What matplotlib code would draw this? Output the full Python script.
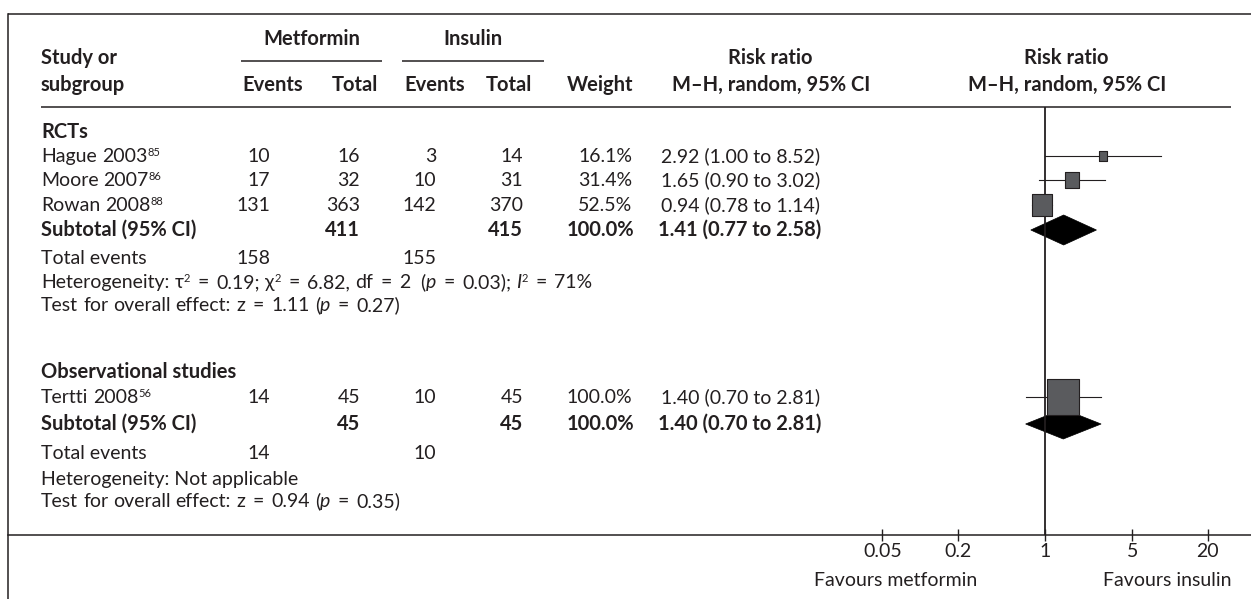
import matplotlib
matplotlib.use("Agg")
import matplotlib.pyplot as plt
from matplotlib.patches import Polygon
from matplotlib.ticker import NullLocator

plt.rcParams['font.family'] = ['Lato', 'DejaVu Sans']

INK = '#231f20'
BOX = '#5a5b5e'
FS = 14
FSB = 14.5
B = 'bold'

# ---------------- data ----------------
rct_names = ["Hague 2003", "Moore 2007", "Rowan 2008"]
rct_refs = ["85", "86", "88"]
rct_met_events = [10, 17, 131]
rct_met_total = [16, 32, 363]
rct_ins_events = [3, 10, 142]
rct_ins_total = [14, 31, 370]
rct_weight = [16.1, 31.4, 52.5]
rct_rr = [2.92, 1.65, 0.94]
rct_lo = [1.00, 0.90, 0.78]
rct_hi = [8.52, 3.02, 1.14]
rct_sub_total = [411, 415]
rct_sub_events = [158, 155]
rct_sub_rr = [1.41, 0.77, 2.58]
rct_het = ["0.19", "6.82", "2", "0.03", "71%"]
rct_test = ["1.11", "0.27"]

obs_names = ["Tertti 2008"]
obs_refs = ["56"]
obs_met_events = [14]
obs_met_total = [45]
obs_ins_events = [10]
obs_ins_total = [45]
obs_weight = [100.0]
obs_rr = [1.40]
obs_lo = [0.70]
obs_hi = [2.81]
obs_sub_total = [45, 45]
obs_sub_events = [14, 10]
obs_sub_rr = [1.40, 0.70, 2.81]
obs_test = ["0.94", "0.35"]

axis_ticks = [0.05, 0.2, 1, 5, 20]
axis_labels = ["0.05", "0.2", "1", "5", "20"]

# ---------------- canvas ----------------
W, H = 1251, 599
fig = plt.figure(figsize=(W / 100, H / 100), dpi=100)
fig.patch.set_facecolor('white')
page = fig.add_axes([0, 0, 1, 1])
page.set_xlim(0, W)
page.set_ylim(H, 0)
page.axis('off')
renderer = fig.canvas.get_renderer()


def _w(s, size, weight, style):
    t = page.text(0, 0, s, fontsize=size, fontweight=weight, fontstyle=style)
    w = t.get_window_extent(renderer=renderer).width
    t.remove()
    return w


def runs(x, y, parts, ha='left', size=FS, weight='normal', eq_pad=0.0):
    """Draw a sequence of text pieces side by side on one baseline.
    eq_pad adds room on both sides of every '=' sign."""
    arts = []
    cx = x
    for part in parts:
        if isinstance(part, str):
            s, kw = part, {}
        else:
            s, kw = part
        fs = kw.get('size', size)
        wt = kw.get('weight', weight)
        st = kw.get('style', 'normal')
        sp = _w('x x', fs, wt, 'normal') - _w('xx', fs, wt, 'normal')
        lead = len(s) - len(s.lstrip(' '))
        trail = len(s) - len(s.rstrip(' '))
        core = s.strip(' ')
        cx += lead * sp
        if core:
            words = core.split(' ')
            for k, wd in enumerate(words):
                if k:
                    cx += sp
                if not wd:
                    continue
                pad = eq_pad if wd == '=' else 0.0
                cx += pad
                t = page.text(cx, y - kw.get('dy', 0), wd, fontsize=fs,
                              fontweight=wt, fontstyle=st, color=INK,
                              ha='left', va='baseline')
                arts.append(t)
                cx += t.get_window_extent(renderer=renderer).width + pad
        cx += trail * sp
    total = cx - x
    if ha != 'left':
        shift = total if ha == 'right' else total / 2
        for t in arts:
            px, py = t.get_position()
            t.set_position((px - shift, py))
    return total


def txt(x, y, s, ha='left', weight='normal', size=None):
    if size is None:
        size = FSB if weight == B else FS
    page.text(x, y, s, fontsize=size, fontweight=weight, color=INK,
              ha=ha, va='baseline')


def hline(x0, x1, y, lw=1.1):
    page.plot([x0, x1], [y, y], color=INK, lw=lw, solid_capstyle='butt')


# ---------------- frame and rules ----------------
hline(8, W, 14)
page.plot([8, 8], [14, H], color=INK, lw=1.1)
hline(241, 382, 61)
hline(402, 544, 61)
hline(41, 1231, 107)

# ---------------- header ----------------
txt(41, 64, "Study or", weight=B)
txt(41, 91, "subgroup", weight=B)
txt(312, 45, "Metformin", ha='center', weight=B)
txt(473, 45, "Insulin", ha='center', weight=B)
for xc, lab in [(273, "Events"), (355, "Total"), (435, "Events"),
                (509, "Total"), (600, "Weight")]:
    txt(xc, 91, lab, ha='center', weight=B)
txt(770, 64, "Risk ratio", ha='center', weight=B)
txt(771, 91, "M\u2013H, random, 95% CI", ha='center', weight=B)
txt(1066, 64, "Risk ratio", ha='center', weight=B)
txt(1067, 91, "M\u2013H, random, 95% CI", ha='center', weight=B)

# column anchors
C_ME, C_MT, C_IE, C_IT, C_W, C_CI = 270, 360, 436, 523, 632, 661
SUP = dict(size=8, dy=6)
EQ = 2.5


def study_rows(ys, names, refs, me, mt, ie, it, wt, rr, lo, hi):
    for i, y in enumerate(ys):
        runs(41, y, [names[i], (refs[i], SUP)])
        txt(C_ME, y, f"{me[i]}", ha='right')
        txt(C_MT, y, f"{mt[i]}", ha='right')
        txt(C_IE, y, f"{ie[i]}", ha='right')
        txt(C_IT, y, f"{it[i]}", ha='right')
        txt(C_W, y, f"{wt[i]:.1f}%", ha='right')
        txt(C_CI, y, f"{rr[i]:.2f} ({lo[i]:.2f} to {hi[i]:.2f})")


def subtotal_row(y, tot, rr3, wsum):
    txt(41, y, "Subtotal (95% CI)", weight=B)
    txt(C_MT, y, f"{tot[0]}", ha='right', weight=B)
    txt(C_IT, y, f"{tot[1]}", ha='right', weight=B)
    txt(C_W + 2, y, f"{wsum:.1f}%", ha='right', weight=B)
    txt(C_CI - 3, y, f"{rr3[0]:.2f} ({rr3[1]:.2f} to {rr3[2]:.2f})", weight=B)


def events_row(y, ev):
    txt(41, y, "Total events")
    txt(C_ME, y, f"{ev[0]}", ha='right')
    txt(C_IE, y, f"{ev[1]}", ha='right')


def test_row(y, vals):
    runs(41, y, ["Test for overall effect: z = ", f"{vals[0]} (",
                 ("p", dict(style='italic')), f" = {vals[1]})"], eq_pad=EQ)


# ---------------- RCT block ----------------
rct_y = [162, 186, 211]
rct_sub_y = 236
txt(41, 138, "RCTs", weight=B)
study_rows(rct_y, rct_names, rct_refs, rct_met_events, rct_met_total,
           rct_ins_events, rct_ins_total, rct_weight, rct_rr, rct_lo, rct_hi)
subtotal_row(rct_sub_y, rct_sub_total, rct_sub_rr, sum(rct_weight))
events_row(264, rct_sub_events)
runs(41, 288, ["Heterogeneity: ", ("\u03c4", {}), ("2", SUP),
               f" = {rct_het[0]}; ", ("\u03c7", {}), ("2", SUP),
               f" = {rct_het[1]}, df = {rct_het[2]}  (",
               ("p", dict(style='italic')), f" = {rct_het[3]}); ",
               ("I", dict(style='italic')), ("2", SUP), f" = {rct_het[4]}"],
     eq_pad=EQ)
test_row(311, rct_test)

# ---------------- observational block ----------------
obs_y = [403]
obs_sub_y = 430
txt(41, 378, "Observational studies", weight=B)
study_rows(obs_y, obs_names, obs_refs, obs_met_events, obs_met_total,
           obs_ins_events, obs_ins_total, obs_weight, obs_rr, obs_lo, obs_hi)
subtotal_row(obs_sub_y, obs_sub_total, obs_sub_rr, sum(obs_weight))
events_row(459, obs_sub_events)
txt(41, 485, "Heterogeneity: Not applicable")
test_row(507, obs_test)

# ---------------- forest panel ----------------
X1, PPD, XL, YB, YT = 1045, 125.0, 8, 535, 107
fx = fig.add_axes([XL / W, (H - YB) / H, (W - XL) / W, (YB - YT) / H])
fx.set_xscale('log')
fx.set_xlim(10 ** (-(X1 - XL) / PPD), 10 ** ((W - X1) / PPD))
fx.set_ylim(YB, YT)
fx.patch.set_alpha(0)
for side in ('top', 'right', 'left'):
    fx.spines[side].set_visible(False)
fx.spines['bottom'].set_color(INK)
fx.spines['bottom'].set_linewidth(1.1)
fx.set_yticks([])
fx.set_xticks(axis_ticks)
fx.set_xticklabels(axis_labels)
fx.xaxis.set_minor_locator(NullLocator())
fx.tick_params(axis='x', direction='inout', length=8, width=1.0,
               colors=INK, labelsize=FS, pad=2)
fx.axvline(1, color=INK, lw=1.3)

ratio = 1.17
box = [(-1 / ratio, -1), (1 / ratio, -1), (1 / ratio, 1), (-1 / ratio, 1),
       (-1 / ratio, -1)]


def draw_study(y, rr, lo, hi, wt):
    fx.plot([lo, hi], [y, y], color=INK, lw=0.8)
    h_px = ratio * wt ** 0.75
    fx.plot([rr], [y], marker=box, markersize=h_px * 0.72, color=BOX,
            markeredgecolor=INK, markeredgewidth=0.8, linestyle='none')


def draw_diamond(y, rr3):
    est, lo, hi = rr3
    fx.add_patch(Polygon([(lo, y), (est, y - 15), (hi, y), (est, y + 15)],
                         closed=True, facecolor='black', edgecolor='black',
                         lw=0.5))


for i, y in enumerate(rct_y):
    draw_study(y - 6, rct_rr[i], rct_lo[i], rct_hi[i], rct_weight[i])
draw_diamond(rct_sub_y - 6, rct_sub_rr)
for i, y in enumerate(obs_y):
    draw_study(y - 6, obs_rr[i], obs_lo[i], obs_hi[i], obs_weight[i])
draw_diamond(obs_sub_y - 6, obs_sub_rr)

txt(977, 586, "Favours metformin", ha='right')
txt(1103, 586, "Favours insulin", ha='left')

fig.savefig("out.png", dpi=100, facecolor='white')
